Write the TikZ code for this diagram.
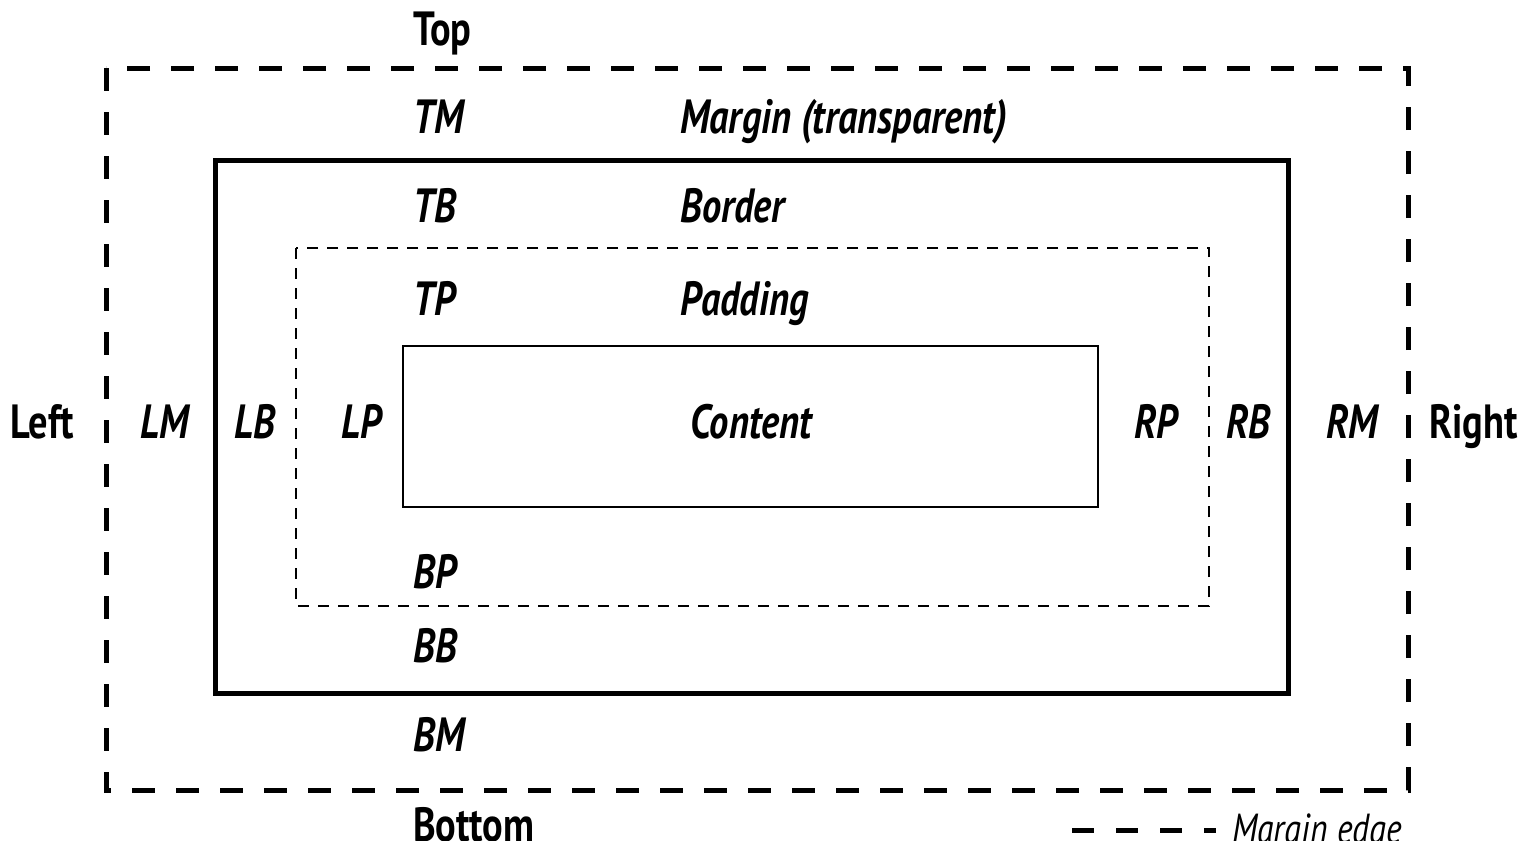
\documentclass[tikz,border=0pt]{standalone}
\usepackage{fontspec}
\setmainfont{PT Sans}[FakeStretch=0.8]
\begin{document}
\begin{tikzpicture}[x=1pt,y=-1pt,
  lbl/.style={inner sep=0pt,anchor=base west,font=\fontsize{48}{52}\selectfont\bfseries\itshape},
  side/.style={inner sep=0pt,anchor=base west,font=\fontsize{48}{52}\selectfont\bfseries},
  legendtext/.style={inner sep=0pt,anchor=base west,font=\fontsize{42}{46}\selectfont\itshape},
  marginedge/.style={line width=5pt,dash pattern=on 23pt off 21pt},
  borderedge/.style={line width=5pt},
  paddingedge/.style={line width=2.5pt,dash pattern=on 11pt off 9pt},
  contentedge/.style={line width=2.5pt}]
\useasboundingbox (0,0) rectangle (1524,841);
% boxes
\draw[marginedge] (106,68) rectangle (1408,790);
\draw[borderedge] (215,160) rectangle (1288,693);
\draw[paddingedge] (296,248) rectangle (1209,606);
\draw[contentedge] (403,346) rectangle (1098,507);
% top labels
\node[side] (top) at (413,45) {Top};
\node[lbl] (tm) at (413,133) {TM};
\node[lbl] (mt) at (680,133) {Margin (transparent)};
\node[lbl] (tb) at (413,222) {TB};
\node[lbl] (bd) at (680,222) {Border};
\node[lbl] (tp) at (413,315) {TP};
\node[lbl] (pd) at (680,315) {Padding};
% middle row
\node[side] (left) at (10,438) {Left};
\node[lbl] (lm) at (140,438) {LM};
\node[lbl] (lb) at (234,438) {LB};
\node[lbl] (lp) at (341,438) {LP};
\node[lbl,anchor=base] (ct) at (751,438) {Content};
\node[lbl] (rp) at (1134,438) {RP};
\node[lbl] (rb) at (1226,438) {RB};
\node[lbl] (rm) at (1326,438) {RM};
\node[side] (right) at (1429,438) {Right};
% bottom labels
\node[lbl] (bp) at (413,588) {BP};
\node[lbl] (bb) at (413,662) {BB};
\node[lbl] (bm) at (413,751) {BM};
\node[side] (bottom) at (413,841) {Bottom};
% legend
\coordinate (la) at (1072,830);
\coordinate (lz) at (1216,830);
\draw[line width=5pt,dash pattern=on 22pt off 22pt] (la) -- (lz);
\node[legendtext] (me) at (1232,843) {Margin edge};
\end{tikzpicture}
\end{document}
